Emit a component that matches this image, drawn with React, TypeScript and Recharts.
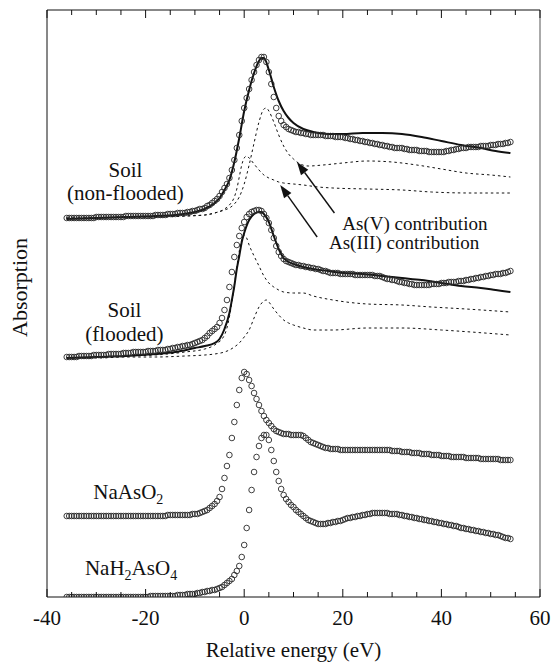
import { LineChart, Line, XAxis, YAxis, ReferenceLine, ReferenceDot } from "recharts";

const FONT = '"Liberation Serif", "Times New Roman", Times, serif';
const INK = "#111";

// energy grid of the scanned spectra (eV, relative to the edge), 0.5 eV steps
const ENERGY = [
  -36, -35.5, -35, -34.5, -34, -33.5, -33, -32.5, -32, -31.5, -31, -30.5, -30, -29.5, -29, -28.5, -28, -27.5, -27, -26.5,
  -26, -25.5, -25, -24.5, -24, -23.5, -23, -22.5, -22, -21.5, -21, -20.5, -20, -19.5, -19, -18.5, -18, -17.5, -17, -16.5,
  -16, -15.5, -15, -14.5, -14, -13.5, -13, -12.5, -12, -11.5, -11, -10.5, -10, -9.5, -9, -8.5, -8, -7.5, -7, -6.5,
  -6, -5.5, -5, -4.5, -4, -3.5, -3, -2.5, -2, -1.5, -1, -0.5, 0, 0.5, 1, 1.5, 2, 2.5, 3, 3.5,
  4, 4.5, 5, 5.5, 6, 6.5, 7, 7.5, 8, 8.5, 9, 9.5, 10, 10.5, 11, 11.5, 12, 12.5, 13, 13.5,
  14, 14.5, 15, 15.5, 16, 16.5, 17, 17.5, 18, 18.5, 19, 19.5, 20, 20.5, 21, 21.5, 22, 22.5, 23, 23.5,
  24, 24.5, 25, 25.5, 26, 26.5, 27, 27.5, 28, 28.5, 29, 29.5, 30, 30.5, 31, 31.5, 32, 32.5, 33, 33.5,
  34, 34.5, 35, 35.5, 36, 36.5, 37, 37.5, 38, 38.5, 39, 39.5, 40, 40.5, 41, 41.5, 42, 42.5, 43, 43.5,
  44, 44.5, 45, 45.5, 46, 46.5, 47, 47.5, 48, 48.5, 49, 49.5, 50, 50.5, 51, 51.5, 52, 52.5, 53, 53.5,
  54,
];

// stacked absorption, one offset per spectrum
const NA_H2_ASO4 = [
  0, 0, 0, 0, 0, 0, 0, 0, 0, 0, 0, 0, 0, 0, 0, 0, 0, 0, 0, 0,
  0, 0, 0, 0, 0, 0, 0, 0, 0, 0, 0, 0, 0, 0, 0.01, 0.01, 0.01, 0.01, 0.01, 0.01,
  0.01, 0.01, 0.01, 0.01, 0.01, 0.02, 0.02, 0.02, 0.02, 0.03, 0.03, 0.03, 0.03, 0.04, 0.04, 0.05, 0.05, 0.06, 0.06, 0.07,
  0.07, 0.08, 0.09, 0.1, 0.12, 0.14, 0.16, 0.18, 0.22, 0.26, 0.31, 0.4, 0.52, 0.69, 0.87, 1.07, 1.25, 1.4, 1.51, 1.59,
  1.62, 1.62, 1.57, 1.47, 1.36, 1.25, 1.16, 1.08, 1.02, 0.98, 0.95, 0.92, 0.9, 0.87, 0.85, 0.83, 0.81, 0.79, 0.77, 0.76,
  0.75, 0.74, 0.73, 0.73, 0.73, 0.73, 0.74, 0.74, 0.75, 0.75, 0.76, 0.76, 0.77, 0.78, 0.79, 0.79, 0.8, 0.8, 0.81, 0.81,
  0.82, 0.82, 0.83, 0.83, 0.84, 0.84, 0.84, 0.84, 0.84, 0.84, 0.84, 0.83, 0.83, 0.83, 0.83, 0.82, 0.82, 0.81, 0.81, 0.8,
  0.8, 0.79, 0.79, 0.78, 0.78, 0.77, 0.77, 0.76, 0.76, 0.75, 0.75, 0.74, 0.74, 0.73, 0.73, 0.72, 0.72, 0.71, 0.71, 0.7,
  0.69, 0.69, 0.68, 0.68, 0.67, 0.67, 0.66, 0.66, 0.65, 0.65, 0.64, 0.64, 0.63, 0.63, 0.62, 0.62, 0.61, 0.6, 0.59, 0.59,
  0.58,
];

const NA_ASO2 = [
  0.81, 0.81, 0.81, 0.81, 0.81, 0.81, 0.81, 0.81, 0.81, 0.81, 0.81, 0.81, 0.81, 0.81, 0.81, 0.81, 0.81, 0.81, 0.81, 0.81,
  0.81, 0.81, 0.81, 0.81, 0.81, 0.81, 0.81, 0.81, 0.81, 0.81, 0.81, 0.81, 0.81, 0.81, 0.81, 0.81, 0.81, 0.81, 0.81, 0.81,
  0.81, 0.82, 0.82, 0.82, 0.82, 0.82, 0.82, 0.82, 0.82, 0.82, 0.82, 0.83, 0.83, 0.83, 0.84, 0.85, 0.86, 0.87, 0.89, 0.91,
  0.93, 0.96, 1.0, 1.08, 1.19, 1.31, 1.42, 1.59, 1.75, 1.92, 2.07, 2.19, 2.25, 2.23, 2.17, 2.11, 2.04, 1.98, 1.92, 1.86,
  1.81, 1.77, 1.74, 1.71, 1.68, 1.66, 1.65, 1.64, 1.63, 1.63, 1.63, 1.62, 1.62, 1.62, 1.62, 1.62, 1.61, 1.59, 1.57, 1.55,
  1.54, 1.53, 1.52, 1.51, 1.5, 1.49, 1.49, 1.48, 1.48, 1.48, 1.48, 1.47, 1.47, 1.47, 1.47, 1.47, 1.47, 1.47, 1.47, 1.47,
  1.47, 1.47, 1.47, 1.47, 1.47, 1.47, 1.47, 1.47, 1.47, 1.47, 1.47, 1.47, 1.46, 1.46, 1.46, 1.46, 1.45, 1.45, 1.45, 1.45,
  1.44, 1.44, 1.44, 1.44, 1.43, 1.43, 1.43, 1.43, 1.42, 1.42, 1.42, 1.42, 1.41, 1.41, 1.41, 1.41, 1.4, 1.4, 1.4, 1.4,
  1.4, 1.4, 1.39, 1.39, 1.39, 1.39, 1.39, 1.39, 1.38, 1.38, 1.38, 1.38, 1.38, 1.38, 1.38, 1.38, 1.37, 1.37, 1.37, 1.37,
  1.37,
];

const SOIL_FLOODED = [
  2.4, 2.4, 2.4, 2.4, 2.4, 2.41, 2.41, 2.41, 2.41, 2.41, 2.41, 2.42, 2.42, 2.42, 2.42, 2.42, 2.42, 2.43, 2.43, 2.43,
  2.43, 2.43, 2.43, 2.44, 2.44, 2.44, 2.44, 2.45, 2.45, 2.45, 2.45, 2.45, 2.45, 2.46, 2.46, 2.46, 2.46, 2.47, 2.47, 2.47,
  2.47, 2.48, 2.48, 2.49, 2.49, 2.5, 2.5, 2.51, 2.51, 2.52, 2.52, 2.53, 2.54, 2.55, 2.56, 2.57, 2.59, 2.61, 2.64, 2.66,
  2.68, 2.7, 2.74, 2.79, 2.87, 2.97, 3.1, 3.25, 3.4, 3.52, 3.61, 3.69, 3.75, 3.8, 3.83, 3.85, 3.86, 3.87, 3.87, 3.86,
  3.83, 3.79, 3.74, 3.67, 3.59, 3.51, 3.45, 3.41, 3.38, 3.36, 3.35, 3.34, 3.33, 3.32, 3.32, 3.31, 3.31, 3.3, 3.3, 3.29,
  3.29, 3.28, 3.28, 3.27, 3.26, 3.26, 3.25, 3.24, 3.24, 3.24, 3.24, 3.23, 3.23, 3.23, 3.23, 3.23, 3.23, 3.22, 3.22, 3.22,
  3.22, 3.22, 3.22, 3.22, 3.22, 3.21, 3.21, 3.21, 3.2, 3.19, 3.18, 3.18, 3.17, 3.17, 3.16, 3.15, 3.15, 3.14, 3.14, 3.13,
  3.13, 3.12, 3.12, 3.12, 3.12, 3.12, 3.12, 3.12, 3.13, 3.13, 3.13, 3.13, 3.14, 3.14, 3.14, 3.15, 3.15, 3.15, 3.15, 3.16,
  3.16, 3.16, 3.17, 3.17, 3.18, 3.18, 3.19, 3.19, 3.2, 3.2, 3.21, 3.21, 3.22, 3.22, 3.23, 3.23, 3.23, 3.24, 3.24, 3.25,
  3.26,
];

const SOIL_NON_FLOODED = [
  3.79, 3.79, 3.79, 3.79, 3.79, 3.79, 3.79, 3.79, 3.79, 3.79, 3.79, 3.79, 3.8, 3.8, 3.8, 3.8, 3.8, 3.8, 3.8, 3.8,
  3.8, 3.8, 3.8, 3.8, 3.81, 3.81, 3.81, 3.81, 3.81, 3.81, 3.81, 3.81, 3.81, 3.81, 3.81, 3.81, 3.82, 3.82, 3.82, 3.82,
  3.82, 3.83, 3.83, 3.83, 3.83, 3.84, 3.84, 3.84, 3.84, 3.85, 3.85, 3.86, 3.86, 3.87, 3.88, 3.88, 3.89, 3.91, 3.92, 3.94,
  3.96, 3.98, 4.01, 4.05, 4.09, 4.13, 4.19, 4.27, 4.37, 4.49, 4.62, 4.76, 4.89, 4.99, 5.08, 5.17, 5.25, 5.32, 5.37, 5.4,
  5.4, 5.35, 5.25, 5.13, 5.0, 4.89, 4.81, 4.76, 4.72, 4.7, 4.68, 4.67, 4.66, 4.65, 4.65, 4.64, 4.64, 4.63, 4.63, 4.62,
  4.62, 4.62, 4.62, 4.62, 4.62, 4.61, 4.61, 4.61, 4.61, 4.6, 4.6, 4.6, 4.6, 4.59, 4.59, 4.58, 4.58, 4.57, 4.57, 4.56,
  4.56, 4.55, 4.55, 4.54, 4.54, 4.53, 4.53, 4.52, 4.52, 4.51, 4.51, 4.5, 4.5, 4.49, 4.49, 4.49, 4.49, 4.48, 4.48, 4.47,
  4.47, 4.47, 4.47, 4.46, 4.46, 4.46, 4.46, 4.45, 4.45, 4.45, 4.45, 4.45, 4.45, 4.45, 4.46, 4.46, 4.47, 4.47, 4.48, 4.48,
  4.49, 4.49, 4.49, 4.5, 4.5, 4.5, 4.5, 4.5, 4.51, 4.51, 4.51, 4.51, 4.52, 4.52, 4.52, 4.53, 4.53, 4.53, 4.54, 4.54,
  4.55,
];

// linear-combination fits
const FIT_NF_E = [
  -36, -30, -24, -18, -14, -10, -8, -6, -5, -4, -3, -2, -1, 0, 1, 2, 3, 3.5, 4, 5, 6, 7, 8, 9, 10, 12,
  14, 17, 20, 24, 28, 32, 36, 40, 44, 48, 51, 54,
];
const FIT_NF = [
  3.78, 3.79, 3.8, 3.81, 3.82, 3.85, 3.88, 3.94, 3.99, 4.07, 4.17, 4.35, 4.59, 4.86, 5.07, 5.24, 5.36,
  5.39, 5.39, 5.27, 5.1, 4.96, 4.86, 4.79, 4.74, 4.68, 4.65, 4.63, 4.63, 4.64, 4.64, 4.63, 4.6, 4.56,
  4.52, 4.49, 4.46, 4.44,
];

const FIT_F_E = [
  -36, -30, -24, -18, -14, -10, -8, -6, -5, -4, -3, -2.5, -2, -1.5, -1, -0.5, 0, 1, 2, 3, 3.5, 4, 5, 6,
  7, 8, 9, 10, 12, 14, 17, 20, 24, 28, 32, 36, 40, 44, 48, 51, 54,
];
const FIT_F = [
  2.39, 2.4, 2.41, 2.43, 2.45, 2.49, 2.51, 2.54, 2.58, 2.68, 2.84, 2.97, 3.11, 3.28, 3.41, 3.55, 3.64,
  3.77, 3.83, 3.85, 3.85, 3.83, 3.75, 3.61, 3.48, 3.39, 3.35, 3.33, 3.3, 3.28, 3.26, 3.24, 3.23, 3.21,
  3.19, 3.17, 3.14, 3.11, 3.09, 3.07, 3.05,
];

// As(V) / As(III) components of each fit
const ASV_NF_E = [
  -36, -30, -24, -18, -12, -8, -6, -4, -3, -2, -1, 0, 1, 2, 3, 4, 4.5, 5, 6, 7, 8, 9, 10, 11, 13, 16,
  20, 25, 30, 35, 40, 45, 50, 54,
];
const ASV_NF = [
  3.79, 3.79, 3.8, 3.8, 3.81, 3.82, 3.84, 3.87, 3.89, 3.93, 4.0, 4.13, 4.32, 4.54, 4.75, 4.88, 4.89,
  4.86, 4.75, 4.62, 4.51, 4.43, 4.38, 4.34, 4.31, 4.32, 4.34, 4.36, 4.35, 4.32, 4.28, 4.24, 4.22, 4.2,
];

const ASIII_NF_E = [
  -36, -30, -24, -18, -12, -8, -6, -4, -3, -2, -1.5, -1, -0.5, 0, 0.5, 1, 2, 3, 4, 5, 6, 7, 8, 10, 12,
  15, 18, 25, 32, 38, 46, 54,
];
const ASIII_NF = [
  3.79, 3.79, 3.8, 3.8, 3.81, 3.82, 3.84, 3.88, 3.92, 4.0, 4.08, 4.2, 4.32, 4.39, 4.41, 4.39, 4.33,
  4.27, 4.22, 4.19, 4.17, 4.15, 4.14, 4.13, 4.12, 4.1, 4.09, 4.08, 4.07, 4.05, 4.04, 4.04,
];

const ASIII_F_E = [
  -36, -30, -24, -18, -12, -8, -6, -4, -3, -2, -1.5, -1, -0.5, 0, 0.5, 1, 2, 3, 4, 5, 6, 7, 8, 10, 12,
  14, 18, 25, 32, 38, 45, 54,
];
const ASIII_F = [
  2.39, 2.4, 2.41, 2.42, 2.45, 2.48, 2.52, 2.62, 2.8, 3.12, 3.3, 3.46, 3.57, 3.62, 3.59, 3.52, 3.41,
  3.31, 3.21, 3.14, 3.1, 3.07, 3.05, 3.04, 3.04, 3.01, 2.97, 2.93, 2.92, 2.9, 2.88, 2.85,
];

const ASV_F_E = [
  -36, -30, -24, -18, -12, -8, -6, -4, -3, -2, -1, 0, 1, 2, 3, 4, 4.5, 5, 6, 7, 8, 9, 10, 12, 14, 18,
  25, 32, 40, 46, 54,
];
const ASV_F = [
  2.39, 2.39, 2.4, 2.4, 2.41, 2.42, 2.43, 2.45, 2.47, 2.5, 2.54, 2.6, 2.67, 2.79, 2.9, 2.96, 2.97,
  2.95, 2.88, 2.82, 2.77, 2.74, 2.72, 2.69, 2.67, 2.67, 2.69, 2.69, 2.67, 2.65, 2.62,
];

const X_TICKS = [-40, -35, -30, -25, -20, -15, -10, -5, 0, 5, 10, 15, 20, 25, 30, 35, 40, 45, 50, 55, 60];
const X_LABELS = [-40, -20, 0, 20, 40, 60];
const Y_MAX = 5.87;

// text annotations, anchored in data units
const NOTES = [
  { x: -24.1, y: 4.2, text: "Soil", anchor: "middle", size: 21 },
  { x: -24.1, y: 3.97, text: "(non-flooded)", anchor: "middle", size: 21 },
  { x: -24.3, y: 2.8, text: "Soil", anchor: "middle", size: 21 },
  { x: -24.3, y: 2.56, text: "(flooded)", anchor: "middle", size: 21 },
  { x: -30.6, y: 0.98, text: "NaAsO2", anchor: "start", size: 21 },
  { x: -32.3, y: 0.22, text: "NaH2AsO4", anchor: "start", size: 21 },
  { x: 19.9, y: 3.67, text: "As(V) contribution", anchor: "start", size: 19 },
  { x: 17.2, y: 3.48, text: "As(III) contribution", anchor: "start", size: 19 },
];

const ARROWS = [
  { from: { x: 18.3, y: 3.84 }, to: { x: 10.7, y: 4.35 } },
  { from: { x: 14.8, y: 3.6 }, to: { x: 7.3, y: 4.12 } },
];

const pairs = (es: number[], vs: number[]) => es.map((e, i) => ({ e, v: vs[i] }));

const CIRCLE = { r: 2.8, fill: "none", stroke: "#2a2a2a", strokeWidth: 0.9 };

const BottomTick = (props: any) => {
  const { x, y, payload } = props;
  const major = X_LABELS.includes(payload.value);
  return (
    <g>
      <line x1={x} x2={x} y1={y} y2={y - (major ? 8 : 5)} stroke={INK} strokeWidth={1} />
      {major && (
        <text x={x} y={y + 28} textAnchor="middle" fontFamily={FONT} fontSize={21} fill={INK}>
          {payload.value}
        </text>
      )}
    </g>
  );
};

const TopTick = (props: any) => {
  const { x, y, payload } = props;
  const major = X_LABELS.includes(payload.value);
  return <line x1={x} x2={x} y1={y} y2={y + (major ? 8 : 5)} stroke={INK} strokeWidth={1} />;
};

const Arrow = (props: any) => {
  const { x1, y1, x2, y2 } = props;
  const ang = Math.atan2(y2 - y1, x2 - x1);
  const len = 13;
  const half = 4.5;
  const bx = x2 - len * Math.cos(ang);
  const by = y2 - len * Math.sin(ang);
  const px = -Math.sin(ang) * half;
  const py = Math.cos(ang) * half;
  return (
    <g>
      <line x1={x1} y1={y1} x2={bx} y2={by} stroke={INK} strokeWidth={1.4} />
      <polygon points={`${x2},${y2} ${bx + px},${by + py} ${bx - px},${by - py}`} fill={INK} />
    </g>
  );
};

// digits are set as subscripts (chemical formulas)
const noteLabel = (note: (typeof NOTES)[number]) => (props: any) => {
  const vb = props.viewBox;
  const cx = vb.x + vb.width / 2;
  const cy = vb.y + vb.height / 2;
  const parts = note.text.split(/(\d+)/).filter(Boolean);
  let lowered = false;
  return (
    <text x={cx} y={cy} textAnchor={note.anchor} fontFamily={FONT} fontSize={note.size} fill={INK}>
      {parts.map((p, i) => {
        const isSub = /^\d+$/.test(p);
        const dy = isSub ? (lowered ? 0 : 5) : lowered ? -5 : 0;
        lowered = isSub;
        return (
          <tspan key={i} dy={dy} fontSize={isSub ? Math.round(note.size * 0.68) : undefined}>
            {p}
          </tspan>
        );
      })}
    </text>
  );
};

const dashed = { stroke: INK, strokeWidth: 1, strokeDasharray: "2.5 3", dot: false };

export default function App() {
  return (
    <div style={{ position: "absolute", left: 0, top: 0, width: 552, height: 662, background: "#fff" }}>
      <LineChart width={552} height={662} margin={{ top: 0, right: 12, bottom: 0, left: 0 }}>
        <XAxis
          xAxisId="b"
          dataKey="e"
          type="number"
          domain={[-40, 60]}
          ticks={X_TICKS}
          interval={0}
          allowDataOverflow
          height={65}
          tickSize={0}
          tickMargin={0}
          tickLine={false}
          tick={<BottomTick />}
          axisLine={{ stroke: INK, strokeWidth: 1 }}
          label={{
            content: (p: any) => (
              <text
                x={p.viewBox.x + p.viewBox.width / 2}
                y={p.viewBox.y + 60}
                textAnchor="middle"
                fontFamily={FONT}
                fontSize={21}
                fill={INK}
              >
                Relative energy (eV)
              </text>
            ),
          }}
        />
        <XAxis
          xAxisId="t"
          orientation="top"
          dataKey="e"
          type="number"
          domain={[-40, 60]}
          ticks={X_TICKS}
          interval={0}
          allowDataOverflow
          height={10}
          tickSize={0}
          tickMargin={0}
          tickLine={false}
          tick={<TopTick />}
          axisLine={{ stroke: INK, strokeWidth: 1 }}
        />
        <YAxis
          type="number"
          domain={[0, Y_MAX]}
          allowDataOverflow
          width={47}
          tick={false}
          tickLine={false}
          axisLine={{ stroke: INK, strokeWidth: 1 }}
          label={{
            content: (p: any) => {
              const x = p.viewBox.x + 27;
              const y = p.viewBox.y + p.viewBox.height / 2 - 16;
              return (
                <text
                  x={x}
                  y={y}
                  transform={`rotate(-90, ${x}, ${y})`}
                  textAnchor="middle"
                  fontFamily={FONT}
                  fontSize={22}
                  fill={INK}
                >
                  Absorption
                </text>
              );
            },
          }}
        />
        <ReferenceLine xAxisId="b" x={60} stroke="#aaa" strokeWidth={2} />

        <Line xAxisId="b" data={pairs(ASIII_NF_E, ASIII_NF)} dataKey="v" type="monotone" {...dashed} isAnimationActive={false} />
        <Line xAxisId="b" data={pairs(ASV_NF_E, ASV_NF)} dataKey="v" type="monotone" {...dashed} isAnimationActive={false} />
        <Line xAxisId="b" data={pairs(ASIII_F_E, ASIII_F)} dataKey="v" type="monotone" {...dashed} isAnimationActive={false} />
        <Line xAxisId="b" data={pairs(ASV_F_E, ASV_F)} dataKey="v" type="monotone" {...dashed} isAnimationActive={false} />

        <Line xAxisId="b" data={pairs(ENERGY, SOIL_NON_FLOODED)} dataKey="v" stroke="none" dot={CIRCLE} activeDot={false} isAnimationActive={false} />
        <Line xAxisId="b" data={pairs(ENERGY, SOIL_FLOODED)} dataKey="v" stroke="none" dot={CIRCLE} activeDot={false} isAnimationActive={false} />
        <Line xAxisId="b" data={pairs(ENERGY, NA_ASO2)} dataKey="v" stroke="none" dot={CIRCLE} activeDot={false} isAnimationActive={false} />
        <Line xAxisId="b" data={pairs(ENERGY, NA_H2_ASO4)} dataKey="v" stroke="none" dot={CIRCLE} activeDot={false} isAnimationActive={false} />

        <Line xAxisId="b" data={pairs(FIT_NF_E, FIT_NF)} dataKey="v" type="monotone" stroke={INK} strokeWidth={2} dot={false} isAnimationActive={false} />
        <Line xAxisId="b" data={pairs(FIT_F_E, FIT_F)} dataKey="v" type="monotone" stroke={INK} strokeWidth={2} dot={false} isAnimationActive={false} />

        {ARROWS.map((a, i) => (
          <ReferenceLine key={`a${i}`} xAxisId="b" segment={[a.from, a.to]} shape={<Arrow />} />
        ))}
        {NOTES.map((n, i) => (
          <ReferenceDot key={`n${i}`} xAxisId="b" x={n.x} y={n.y} r={1} fill="none" stroke="none" label={noteLabel(n)} />
        ))}
      </LineChart>
    </div>
  );
}
